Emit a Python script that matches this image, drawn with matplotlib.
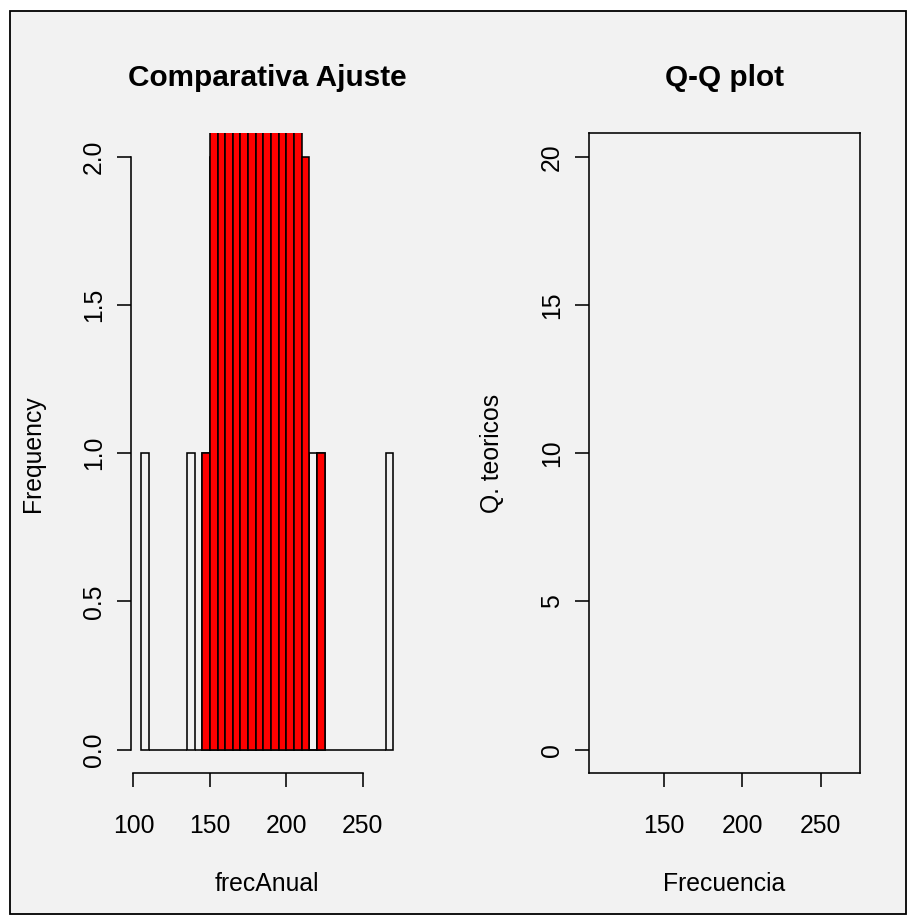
import matplotlib
matplotlib.use("Agg")
import matplotlib.pyplot as plt
from matplotlib.patches import Rectangle

plt.rcParams["font.family"] = ["Liberation Sans", "DejaVu Sans"]

# --- data -------------------------------------------------------------------
# histogram of frecAnual (bin width 5, left edges)
bin_left = [105, 110, 115, 120, 125, 130, 135, 140, 145, 150, 155, 160, 165,
            170, 175, 180, 185, 190, 195, 200, 205, 210, 215, 220, 225, 230,
            235, 240, 245, 250, 255, 260, 265]
freq_anual = [1, 0, 0, 0, 0, 0, 1, 0, 1, 2, 1, 2, 1, 2, 1, 2, 2, 1, 2, 1, 2,
              1, 1, 1, 0, 0, 0, 0, 0, 0, 0, 0, 1]

# fitted sample overlaid in red
ajuste_left = [145, 150, 155, 160, 165, 170, 175, 180, 185, 190, 195, 200,
               205, 210, 215, 220]
freq_ajuste = [1, 3, 4, 5, 6, 7, 7, 8, 7, 6, 5, 4, 3, 2, 0, 1]
bin_width = 5

hist_xlim = (98.4, 276.6)
hist_ylim = (-0.08, 2.08)
hist_xticks = [100, 150, 200, 250]
hist_yticks = [0.0, 0.5, 1.0, 1.5, 2.0]
hist_yticklabels = ["0.0", "0.5", "1.0", "1.5", "2.0"]

qq_xlim = (102.4, 275.1)
qq_ylim = (-0.8, 20.8)
qq_xticks = [150, 200, 250]
qq_yticks = [0, 5, 10, 15, 20]

# --- figure -----------------------------------------------------------------
W, H = 909, 917
BG = "#f2f2f2"
LAB = 17.8
TITLE = 21.4
LW = 1.15

fig = plt.figure(figsize=(W / 100, H / 100), dpi=100, facecolor="white")
fig.patches.append(Rectangle((9.5 / W, 1 - 914 / H), (906 - 9.5) / W,
                             (914 - 11) / H, transform=fig.transFigure,
                             facecolor=BG, edgecolor="black", linewidth=1.3,
                             zorder=-10))

bottom = (H - 773.3) / H
height = 640 / H
ax1 = fig.add_axes([131 / W, bottom, 272.5 / W, height])
ax2 = fig.add_axes([589 / W, bottom, 271 / W, height])


def style_axes(ax):
    ax.set_facecolor("none")
    ax.tick_params(direction="out", length=10.4, width=LW, color="black",
                   labelsize=LAB)
    ax.tick_params(axis="x", pad=19.2)
    ax.tick_params(axis="y", pad=7.5)
    for lab in ax.get_yticklabels():
        lab.set_rotation(90)
        lab.set_va("center")
        lab.set_ha("right")
    for sp in ax.spines.values():
        sp.set_linewidth(LW)


# left panel: histograms
ax1.bar(bin_left, freq_anual, width=bin_width, align="edge",
        facecolor="none", edgecolor="black", linewidth=LW)
ax1.bar(ajuste_left, freq_ajuste, width=bin_width, align="edge",
        facecolor="#ff0000", edgecolor="black", linewidth=LW)
ax1.set_xlim(*hist_xlim)
ax1.set_ylim(*hist_ylim)
ax1.set_xticks(hist_xticks)
ax1.set_yticks(hist_yticks, hist_yticklabels)
for side in ("top", "right"):
    ax1.spines[side].set_visible(False)
ax1.spines["left"].set_bounds(hist_yticks[0], hist_yticks[-1])
ax1.spines["bottom"].set_bounds(hist_xticks[0], hist_xticks[-1])
style_axes(ax1)

# right panel: empty Q-Q frame
ax2.set_xlim(*qq_xlim)
ax2.set_ylim(*qq_ylim)
ax2.set_xticks(qq_xticks)
ax2.set_yticks(qq_yticks)
style_axes(ax2)

ax1.set_title("Comparativa Ajuste", fontsize=TITLE, fontweight="bold",
              y=1.074, pad=0, va="baseline")
ax2.set_title("Q-Q plot", fontsize=TITLE, fontweight="bold",
              y=1.074, pad=0, va="baseline")

ax1.set_xlabel("frecAnual", fontsize=LAB)
ax2.set_xlabel("Frecuencia", fontsize=LAB)
ax1.set_ylabel("Frequency", fontsize=LAB)
ax2.set_ylabel("Q. teoricos", fontsize=LAB)
for ax in (ax1, ax2):
    ax.xaxis.label.set_va("baseline")
    ax.xaxis.set_label_coords(0.5, -0.184)
    ax.yaxis.label.set_va("baseline")
    ax.yaxis.set_label_coords(-0.333, 0.5)

fig.savefig("out.png", dpi=100, facecolor="white")
